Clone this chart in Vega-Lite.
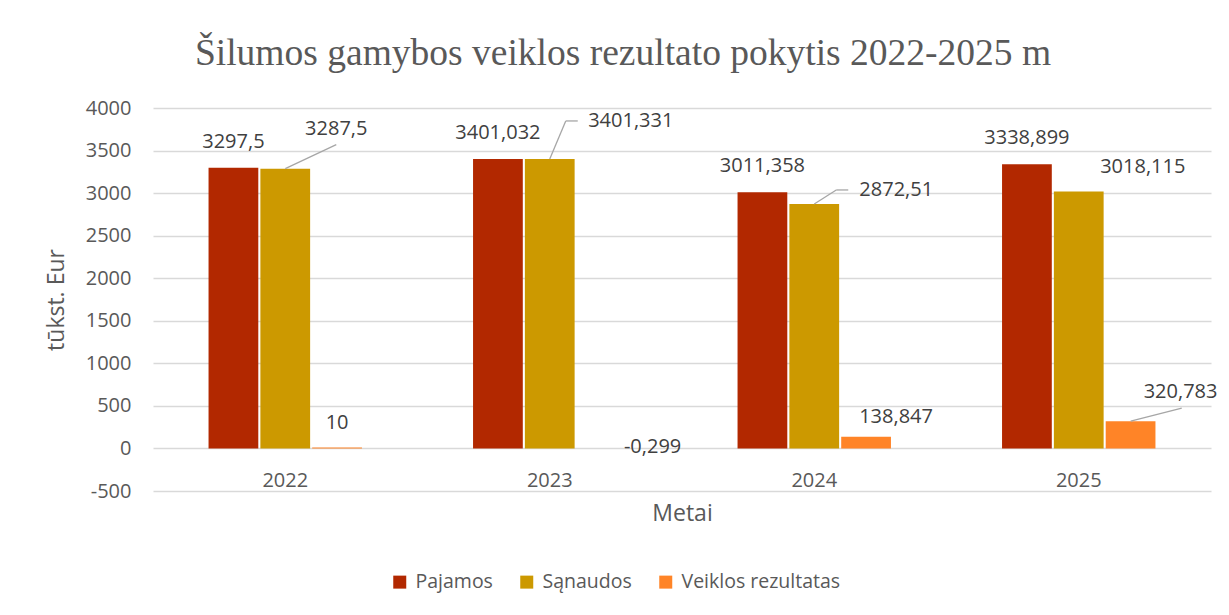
{
  "$schema": "https://vega.github.io/schema/vega-lite/v6.json",
  "autosize": "none",
  "width": 1058,
  "height": 383,
  "padding": {"left": 153, "top": 108, "right": 18, "bottom": 124},
  "background": "white",
  "title": {
    "text": "Šilumos gamybos veiklos rezultato pokytis 2022-2025 m",
    "font": "Liberation Serif",
    "fontSize": 37.5,
    "fontWeight": "normal",
    "color": "#595959",
    "anchor": "middle",
    "dx": -59,
    "offset": 26
  },
  "config": {
    "locale": {
      "number": {"decimal": ",", "thousands": "", "grouping": [3], "currency": ["", " €"], "minus": "-"}
    },
    "view": {"stroke": null},
    "axis": {
      "labelFont": "Open Sans",
      "titleFont": "Open Sans",
      "labelFontSize": 20,
      "titleFontSize": 23,
      "labelColor": "#595959",
      "titleColor": "#595959",
      "titleFontWeight": "normal"
    },
    "legend": {"labelFont": "Open Sans", "labelFontSize": 19.5, "labelColor": "#595959", "labelLimit": 400},
    "text": {"font": "Open Sans", "fontSize": 20, "color": "#404040", "baseline": "middle"}
  },
  "data": {
    "values": [
      {"year": "2022", "series": "Pajamos", "value": 3297.5},
      {"year": "2022", "series": "Sąnaudos", "value": 3287.5},
      {"year": "2022", "series": "Veiklos rezultatas", "value": 10},
      {"year": "2023", "series": "Pajamos", "value": 3401.032},
      {"year": "2023", "series": "Sąnaudos", "value": 3401.331},
      {"year": "2023", "series": "Veiklos rezultatas", "value": -0.299},
      {"year": "2024", "series": "Pajamos", "value": 3011.358},
      {"year": "2024", "series": "Sąnaudos", "value": 2872.51},
      {"year": "2024", "series": "Veiklos rezultatas", "value": 138.847},
      {"year": "2025", "series": "Pajamos", "value": 3338.899},
      {"year": "2025", "series": "Sąnaudos", "value": 3018.115},
      {"year": "2025", "series": "Veiklos rezultatas", "value": 320.783}
    ]
  },
  "encoding": {
    "x": {
      "field": "year",
      "type": "nominal",
      "title": "Metai",
      "scale": {"paddingInner": 0.42, "paddingOuter": 0.21},
      "axis": {
        "offset": -42.6,
        "labelAngle": 0,
        "labelPadding": 22,
        "domain": false,
        "ticks": false,
        "tickSize": 0,
        "grid": false,
        "titlePadding": 12
      }
    },
    "y": {
      "field": "value",
      "type": "quantitative",
      "title": "tūkst. Eur",
      "scale": {"domain": [-500, 4000], "nice": false, "zero": false},
      "axis": {
        "values": [-500, 0, 500, 1000, 1500, 2000, 2500, 3000, 3500, 4000],
        "format": "d",
        "domain": false,
        "ticks": false,
        "tickSize": 0,
        "labelPadding": 22,
        "gridColor": "#D9D9D9",
        "gridWidth": 1.3,
        "titlePadding": 17
      }
    }
  },
  "layer": [
    {
      "mark": {"type": "bar"},
      "encoding": {
        "xOffset": {
          "field": "series",
          "type": "nominal",
          "scale": {"domain": ["Pajamos", "Sąnaudos", "Veiklos rezultatas"], "paddingInner": 0.04}
        },
        "y2": {"datum": 0},
        "color": {
          "field": "series",
          "type": "nominal",
          "scale": {
            "domain": ["Pajamos", "Sąnaudos", "Veiklos rezultatas"],
            "range": ["#B22800", "#CC9900", "#FF8427"]
          },
          "legend": {
            "title": null,
            "orient": "none",
            "direction": "horizontal",
            "legendX": 237,
            "legendY": 464,
            "symbolType": "square",
            "symbolSize": 169,
            "symbolStrokeWidth": 0,
            "labelOffset": 6,
            "columnPadding": 24
          }
        }
      }
    },
    {
      "transform": [{"filter": "datum.series == 'Pajamos'"}],
      "mark": {"type": "text", "dy": -26},
      "encoding": {"xOffset": {"field": "series", "type": "nominal"}, "text": {"field": "value", "type": "quantitative", "format": "~f"}}
    },
    {
      "transform": [{"filter": "datum.series == 'Sąnaudos' && datum.year == '2022'"}],
      "mark": {"type": "text", "dx": 51, "dy": -40},
      "encoding": {"xOffset": {"field": "series", "type": "nominal"}, "text": {"field": "value", "type": "quantitative", "format": "~f"}}
    },
    {
      "transform": [{"filter": "datum.series == 'Sąnaudos' && datum.year == '2023'"}],
      "mark": {"type": "text", "dx": 81, "dy": -38},
      "encoding": {"xOffset": {"field": "series", "type": "nominal"}, "text": {"field": "value", "type": "quantitative", "format": "~f"}}
    },
    {
      "transform": [{"filter": "datum.series == 'Sąnaudos' && datum.year == '2024'"}],
      "mark": {"type": "text", "dx": 82, "dy": -14},
      "encoding": {"xOffset": {"field": "series", "type": "nominal"}, "text": {"field": "value", "type": "quantitative", "format": "~f"}}
    },
    {
      "transform": [{"filter": "datum.series == 'Sąnaudos' && datum.year == '2025'"}],
      "mark": {"type": "text", "dx": 64, "dy": -25},
      "encoding": {"xOffset": {"field": "series", "type": "nominal"}, "text": {"field": "value", "type": "quantitative", "format": "~f"}}
    },
    {
      "transform": [{"filter": "datum.series == 'Veiklos rezultatas' && datum.year == '2022'"}],
      "mark": {"type": "text", "dx": 0, "dy": -25},
      "encoding": {"xOffset": {"field": "series", "type": "nominal"}, "text": {"field": "value", "type": "quantitative", "format": "~f"}}
    },
    {
      "transform": [{"filter": "datum.series == 'Veiklos rezultatas' && datum.year == '2023'"}],
      "mark": {"type": "text", "dx": 51, "dy": -1},
      "encoding": {"xOffset": {"field": "series", "type": "nominal"}, "text": {"field": "value", "type": "quantitative", "format": "~f"}}
    },
    {
      "transform": [{"filter": "datum.series == 'Veiklos rezultatas' && datum.year == '2024'"}],
      "mark": {"type": "text", "dx": 30, "dy": -20},
      "encoding": {"xOffset": {"field": "series", "type": "nominal"}, "text": {"field": "value", "type": "quantitative", "format": "~f"}}
    },
    {
      "transform": [{"filter": "datum.series == 'Veiklos rezultatas' && datum.year == '2025'"}],
      "mark": {"type": "text", "dx": 50, "dy": -29},
      "encoding": {"xOffset": {"field": "series", "type": "nominal"}, "text": {"field": "value", "type": "quantitative", "format": "~f"}}
    },
    {
      "transform": [{"filter": "datum.series == 'Sąnaudos' && datum.year == '2022'"}],
      "mark": {"type": "rule", "color": "#A6A6A6", "strokeWidth": 1.3, "x2Offset": 51, "y2Offset": -24},
      "encoding": {"x2": {"field": "year"}, "y2": {"field": "value"}}
    },
    {
      "transform": [{"filter": "datum.series == 'Sąnaudos' && datum.year == '2023'"}],
      "mark": {"type": "rule", "color": "#A6A6A6", "strokeWidth": 1.3, "x2Offset": 16, "y2Offset": -38},
      "encoding": {"x2": {"field": "year"}, "y2": {"field": "value"}}
    },
    {
      "transform": [{"filter": "datum.series == 'Sąnaudos' && datum.year == '2023'"}],
      "mark": {"type": "rule", "color": "#A6A6A6", "strokeWidth": 1.3, "xOffset": 16, "yOffset": -38, "x2Offset": 28, "y2Offset": -38},
      "encoding": {"x2": {"field": "year"}, "y2": {"field": "value"}}
    },
    {
      "transform": [{"filter": "datum.series == 'Sąnaudos' && datum.year == '2024'"}],
      "mark": {"type": "rule", "color": "#A6A6A6", "strokeWidth": 1.3, "x2Offset": 22, "y2Offset": -14},
      "encoding": {"x2": {"field": "year"}, "y2": {"field": "value"}}
    },
    {
      "transform": [{"filter": "datum.series == 'Sąnaudos' && datum.year == '2024'"}],
      "mark": {"type": "rule", "color": "#A6A6A6", "strokeWidth": 1.3, "xOffset": 22, "yOffset": -14, "x2Offset": 34, "y2Offset": -14},
      "encoding": {"x2": {"field": "year"}, "y2": {"field": "value"}}
    },
    {
      "transform": [{"filter": "datum.series == 'Veiklos rezultatas' && datum.year == '2025'"}],
      "mark": {"type": "rule", "color": "#A6A6A6", "strokeWidth": 1.3, "xOffset": 52, "x2Offset": 103, "y2Offset": -13},
      "encoding": {"x2": {"field": "year"}, "y2": {"field": "value"}}
    }
  ]
}
